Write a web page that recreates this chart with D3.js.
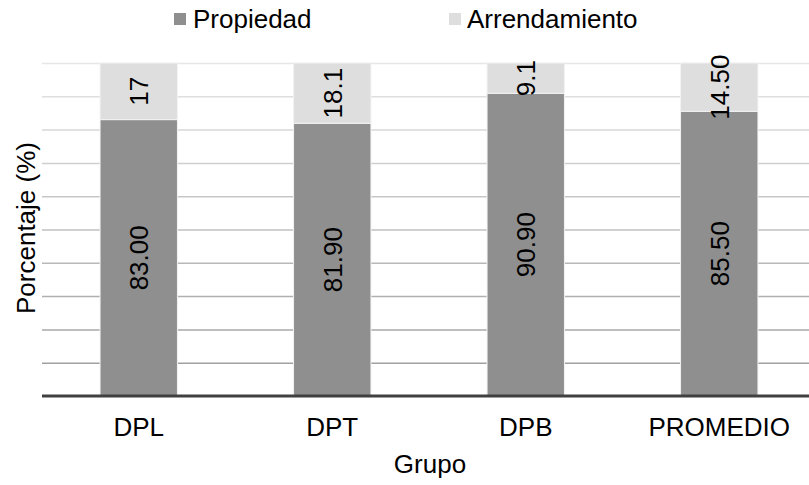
<!DOCTYPE html>
<html>
<head>
<meta charset="utf-8">
<script src="https://cdn.jsdelivr.net/npm/d3@7"></script>
<style>
  html, body { margin: 0; padding: 0; background: #fff; }
  svg { display: block; font-family: "Liberation Sans", Arial, sans-serif; }
</style>
</head>
<body>
<svg id="chart" width="809" height="485"></svg>
<script>
const categories = ["DPL", "DPT", "DPB", "PROMEDIO"];
const seriesNames = ["Propiedad", "Arrendamiento"];
const propiedad = [83.00, 81.90, 90.90, 85.50];
const arrendamiento = [17, 18.1, 9.1, 14.50];
const propiedadLabels = ["83.00", "81.90", "90.90", "85.50"];
const arrendamientoLabels = ["17", "18.1", "9.1", "14.50"];
const yTicks = [0, 10, 20, 30, 40, 50, 60, 70, 80, 90, 100];

const colors = { "Propiedad": "#8f8f8f", "Arrendamiento": "#dedede" };
const FONT = 26;

const svg = d3.select("#chart");
const W = 809, H = 485;
const plot = { left: 42, right: 816, top: 63, bottom: 396 };

const x = d3.scaleBand().domain(categories).range([plot.left, plot.right])
  .paddingInner(0.6).paddingOuter(0.3);
const y = d3.scaleLinear().domain([0, 100]).range([plot.bottom, plot.top]);

// gridlines
const gridColor = d3.interpolateRgb("#999999", "#e6e6e6");
const grid = svg.append("g").attr("transform", `translate(${plot.left},0)`)
  .call(d3.axisLeft(y).tickValues(yTicks.filter(t => t > 0)).tickSize(-(W - plot.left)).tickFormat(""));
grid.select(".domain").remove();
grid.selectAll(".tick line")
  .attr("stroke", d => gridColor(d / 100))
  .attr("stroke-width", 1.5);

// stacked data
const rows = categories.map((c, i) => ({ cat: c, Propiedad: propiedad[i], Arrendamiento: arrendamiento[i] }));
const labelMap = { "Propiedad": propiedadLabels, "Arrendamiento": arrendamientoLabels };
const stack = d3.stack().keys(seriesNames)(rows);

const layers = svg.append("g").selectAll("g").data(stack).join("g")
  .attr("fill", d => colors[d.key]);
layers.selectAll("rect").data(d => d).join("rect")
  .attr("x", d => x(d.data.cat))
  .attr("width", x.bandwidth())
  .attr("y", d => y(d[1]))
  .attr("height", d => y(d[0]) - y(d[1]))
  .attr("stroke", "#f2f2f2")
  .attr("stroke-width", 1);

// value labels
stack.forEach(layer => {
  layer.forEach((d, i) => {
    const cx = x(d.data.cat) + x.bandwidth() / 2;
    const cy = (y(d[0]) + y(d[1])) / 2;
    svg.append("text")
      .attr("transform", `translate(${cx + FONT * 0.36},${cy}) rotate(-90)`)
      .attr("text-anchor", "middle")
      .attr("font-size", FONT)
      .attr("fill", "#000")
      .text(labelMap[layer.key][i]);
  });
});

// x axis line
svg.append("line")
  .attr("x1", plot.left).attr("x2", W)
  .attr("y1", y(0)).attr("y2", y(0))
  .attr("stroke", "#404040").attr("stroke-width", 3);

// category labels
const xAxis = svg.append("g").attr("transform", `translate(0,${y(0)})`)
  .call(d3.axisBottom(x).tickSize(0).tickPadding(0));
xAxis.select(".domain").remove();
xAxis.selectAll("text")
  .attr("font-size", FONT)
  .attr("font-family", "Liberation Sans, Arial, sans-serif")
  .attr("fill", "#000")
  .attr("dy", null)
  .attr("y", 40);

// axis titles
svg.append("text")
  .attr("x", 430).attr("y", 473)
  .attr("text-anchor", "middle")
  .attr("font-size", FONT).attr("fill", "#000")
  .text("Grupo");
svg.append("text")
  .attr("transform", `translate(35,228) rotate(-90)`)
  .attr("text-anchor", "middle")
  .attr("font-size", FONT).attr("fill", "#000")
  .text("Porcentaje (%)");

// legend
const legendItems = [
  { name: "Propiedad", sx: 174, tx: 193 },
  { name: "Arrendamiento", sx: 449, tx: 467 }
];
const lg = svg.append("g");
legendItems.forEach(it => {
  lg.append("rect").attr("x", it.sx).attr("y", 13).attr("width", 12).attr("height", 12)
    .attr("fill", colors[it.name]);
  lg.append("text").attr("x", it.tx).attr("y", 28)
    .attr("font-size", FONT).attr("fill", "#000").text(it.name);
});
</script>
</body>
</html>
